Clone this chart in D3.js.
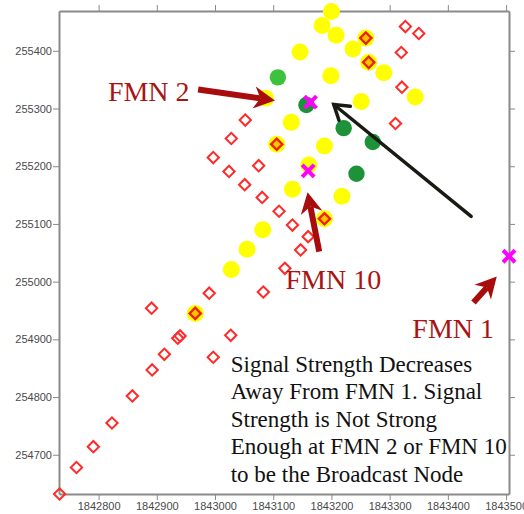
<!DOCTYPE html>
<html>
<head>
<meta charset="utf-8">
<script src="https://cdn.jsdelivr.net/npm/d3@7"></script>
<style>
	body { margin: 0; background: #fff; }
</style>
</head>
<body>
<div id="chart"></div>
<script>
// tick labels
const xTicks = [1842800, 1842900, 1843000, 1843100, 1843200, 1843300, 1843400, 1843500];
const yTicks = [254700, 254800, 254900, 255000, 255100, 255200, 255300, 255400];

// nodes where signal is too weak (hollow red diamonds)
const redDiamonds = [
	[1842733, 254632], [1842762, 254678], [1842791, 254714], [1842823, 254755],
	[1842858, 254802], [1842892, 254847], [1842913, 254874], [1842936, 254902],
	[1842940, 254906], [1842891, 254954], [1842997, 254869], [1843027, 254907],
	[1842990, 254980], [1843083, 254982], [1843120, 255023], [1843147, 255055],
	[1843160, 255078], [1843133, 255098], [1843110, 255122], [1843081, 255146],
	[1843051, 255168], [1843024, 255191], [1842997, 255215], [1843075, 255201],
	[1843028, 255248], [1843052, 255280], [1843327, 255442], [1843350, 255430],
	[1843320, 255397], [1843321, 255337], [1843310, 255274]
];
// red diamonds sitting on a yellow node
const markedDiamonds = [
	[1843106, 255238], [1843188, 255109], [1842966, 254945],
	[1843259, 255422], [1843264, 255380]
];
// medium signal (yellow)
const yellowDots = [
	[1843200, 255468], [1843184, 255444], [1843208, 255427], [1843237, 255403],
	[1843290, 255362], [1843344, 255320], [1843146, 255398], [1843199, 255357],
	[1843251, 255312], [1843131, 255276], [1843188, 255235], [1843161, 255202],
	[1843133, 255160], [1843218, 255148], [1843082, 255090], [1843055, 255056],
	[1843028, 255021], [1843087, 255318]
];
// strong signal (green)
const lightGreenDots = [[1843108, 255354]];
const darkGreenDots = [[1843157, 255306], [1843221, 255266], [1843271, 255242], [1843243, 255187]];
// FMN nodes
const fmnNames = ['FMN 2', 'FMN 10', 'FMN 1'];
const fmnNodes = [[1843164, 255311], [1843160, 255192], [1843505, 255044]];

// annotations, in data units
const labelPos = [[1842816, 255313], [1843121, 254988], [1843339, 254902]];
const redArrows = [
	[[1842971, 255333], [1843103, 255314]],
	[[1843179, 255052], [1843159, 255155]],
	[[1843444, 254964], [1843484, 255009]]
];
const blackArrow = [[1843440, 255113], [1843204, 255307]];
const noteLines = [
	'Signal Strength Decreases',
	'Away From FMN 1. Signal',
	'Strength is Not Strong',
	'Enough at FMN 2 or FMN 10',
	'to be the Broadcast Node'
];
const notePos = [1843027, 254844];

var margin = {
	left: 59,
	top: 11,
	right: 15,
	bottom: 20
};

function drawArrow(g, p1, p2, color, width, headLen, headWide, open) {
	let ang = Math.atan2(p2[1] - p1[1], p2[0] - p1[0]);
	let ca = Math.cos(ang), sa = Math.sin(ang);
	let back = open ? 0 : headLen * 0.7;
	g.append('line')
		.attr('x1', p1[0]).attr('y1', p1[1])
		.attr('x2', p2[0] - ca * back).attr('y2', p2[1] - sa * back)
		.attr('stroke', color)
		.attr('stroke-width', width)
		.attr('stroke-linecap', open ? 'round' : 'butt');
	let bx = p2[0] - ca * headLen, by = p2[1] - sa * headLen;
	let l = [bx - sa * headWide, by + ca * headWide];
	let r = [bx + sa * headWide, by - ca * headWide];
	if (open) {
		g.append('path')
			.attr('d', 'M' + l + 'L' + p2 + 'L' + r)
			.attr('fill', 'none')
			.attr('stroke', color)
			.attr('stroke-width', width)
			.attr('stroke-linecap', 'round');
	} else {
		let notch = [p2[0] - ca * headLen * 0.7, p2[1] - sa * headLen * 0.7];
		g.append('path')
			.attr('d', 'M' + l + 'L' + p2 + 'L' + r + 'L' + notch + 'Z')
			.attr('fill', color);
	}
}

function drawChart(divName) {
	let W = 524, H = 514;
	let svg = d3.select('#' + divName).append('svg')
		.attr('width', W)
		.attr('height', H)
		.style('font-family', 'Liberation Sans, Arial, sans-serif');

	let x = d3.scaleLinear().domain([1842732, 1843505]).range([margin.left, W - margin.right]);
	let y = d3.scaleLinear().domain([254632, 255469]).range([H - margin.bottom, margin.top]);
	let px = d => [x(d[0]), y(d[1])];

	// axes on all four sides
	let fmt = d3.format('d');
	let axes = svg.append('g').attr('class', 'axes');
	axes.append('g')
		.attr('transform', 'translate(0,' + (H - margin.bottom) + ')')
		.call(d3.axisBottom(x).tickValues(xTicks).tickFormat(fmt).tickSize(6).tickPadding(2).tickSizeOuter(0));
	axes.append('g')
		.attr('transform', 'translate(0,' + margin.top + ')')
		.call(d3.axisTop(x).tickValues(xTicks).tickFormat('').tickSize(6).tickSizeOuter(0));
	axes.append('g')
		.attr('transform', 'translate(' + margin.left + ',0)')
		.call(d3.axisLeft(y).tickValues(yTicks).tickFormat(fmt).tickSize(6).tickPadding(1).tickSizeOuter(0));
	axes.append('g')
		.attr('transform', 'translate(' + (W - margin.right) + ',0)')
		.call(d3.axisRight(y).tickValues(yTicks).tickFormat('').tickSize(6).tickSizeOuter(0));
	axes.selectAll('.domain').attr('stroke', '#8a8a8a').attr('stroke-width', 2);
	axes.selectAll('.tick line').attr('stroke', '#8a8a8a');
	axes.selectAll('.tick text').attr('fill', '#4a4a4a').style('font-size', '11px');

	let marks = svg.append('g');
	let diamond = d3.symbol().type(d3.symbolSquare).size(64);

	marks.selectAll('.yellow').data(yellowDots.concat(markedDiamonds)).enter()
		.append('circle')
		.attr('cx', d => x(d[0])).attr('cy', d => y(d[1]))
		.attr('r', 8.5)
		.attr('fill', '#ffff00');

	marks.selectAll('.dia').data(redDiamonds).enter()
		.append('path')
		.attr('d', diamond)
		.attr('transform', d => 'translate(' + px(d) + ') rotate(45)')
		.attr('fill', 'none')
		.attr('stroke', '#ff2a2a')
		.attr('stroke-width', 2);

	marks.selectAll('.mdia').data(markedDiamonds).enter()
		.append('path')
		.attr('d', diamond)
		.attr('transform', d => 'translate(' + px(d) + ') rotate(45)')
		.attr('fill', '#ffc400')
		.attr('stroke', '#f01e00')
		.attr('stroke-width', 2.3);

	marks.selectAll('.lgreen').data(lightGreenDots).enter()
		.append('circle')
		.attr('cx', d => x(d[0])).attr('cy', d => y(d[1]))
		.attr('r', 8.2)
		.attr('fill', '#3cc23c');
	marks.selectAll('.dgreen').data(darkGreenDots).enter()
		.append('circle')
		.attr('cx', d => x(d[0])).attr('cy', d => y(d[1]))
		.attr('r', 8.2)
		.attr('fill', '#1e9238');

	marks.selectAll('.fmn').data(fmnNodes).enter()
		.append('path')
		.attr('d', 'M-6,-6L6,6M-6,6L6,-6')
		.attr('transform', d => 'translate(' + px(d) + ')')
		.attr('stroke', '#ff00ff')
		.attr('stroke-width', 4);

	// annotations
	let ann = svg.append('g');
	redArrows.forEach(a => drawArrow(ann, px(a[0]), px(a[1]), '#a80c0c', 6, 21, 11, false));
	drawArrow(ann, px(blackArrow[0]), px(blackArrow[1]), '#1a1a14', 3.5, 14, 9, true);

	ann.selectAll('.lbl').data(fmnNames).enter()
		.append('text')
		.attr('x', (d, i) => x(labelPos[i][0]))
		.attr('y', (d, i) => y(labelPos[i][1]))
		.attr('fill', '#a81414')
		.style('font-family', 'Liberation Serif, Times New Roman, serif')
		.style('font-size', '28px')
		.text(d => d);

	ann.selectAll('.note').data(noteLines).enter()
		.append('text')
		.attr('x', x(notePos[0]))
		.attr('y', (d, i) => y(notePos[1]) + i * 27.5)
		.attr('fill', '#111')
		.style('font-family', 'Liberation Serif, Times New Roman, serif')
		.style('font-size', '23px')
		.text(d => d);
}

drawChart('chart');
</script>
</body>
</html>
